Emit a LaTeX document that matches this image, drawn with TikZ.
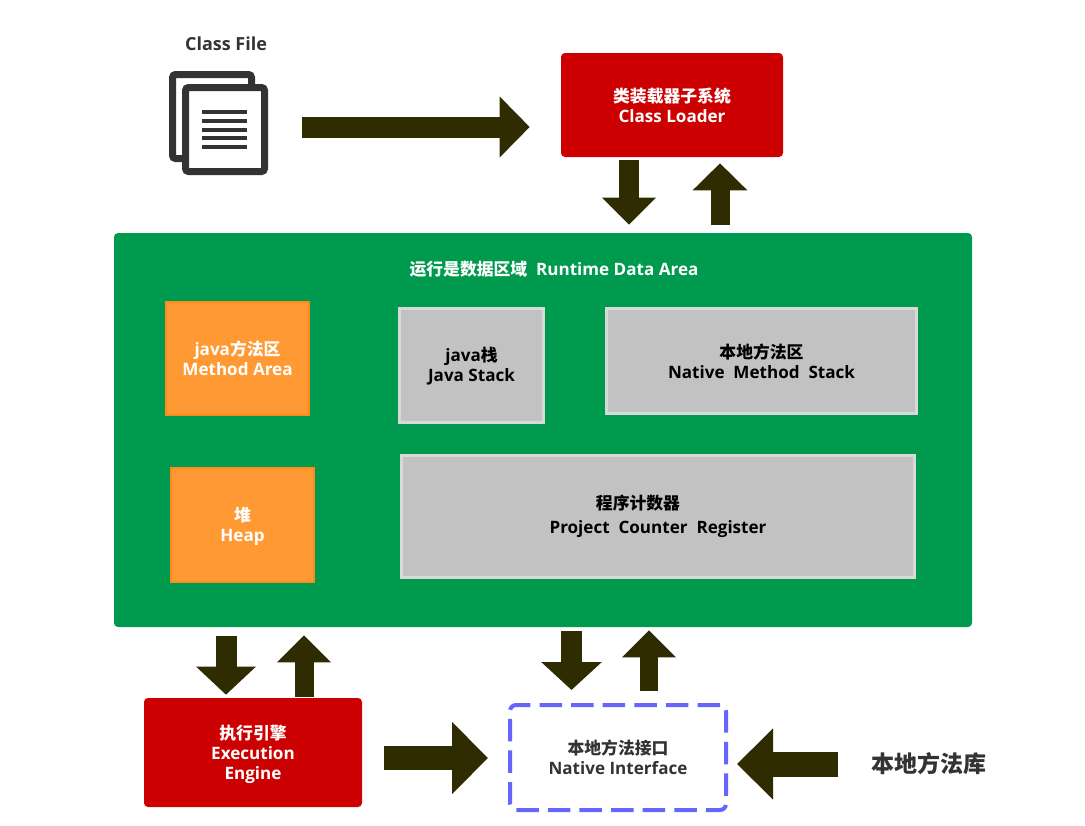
\documentclass[tikz,border=0pt]{standalone}
\usepackage{fontspec}
\setmainfont{Open Sans}
\newfontfamily\cjk[Scale=0.985]{Noto Sans CJK SC}
\usetikzlibrary{arrows.meta,positioning}
\def\pw{0.75pt}
\newcommand\pushrule[1]{\rule{0pt}{#1}}
\definecolor{arrowdark}{HTML}{302C02}
\definecolor{areagreen}{HTML}{009A4E}
\definecolor{loaderred}{HTML}{CC0000}
\definecolor{boxorange}{HTML}{FF9933}
\definecolor{edgeorange}{HTML}{FF8C1A}
\definecolor{boxgray}{HTML}{C2C2C2}
\definecolor{edgegray}{HTML}{D9D9D9}
\definecolor{dashblue}{HTML}{6666FF}
\definecolor{icondark}{HTML}{333333}
\tikzset{
	box/.style={rectangle, align=center, font=\bfseries\fontsize{12.8}{15}\selectfont, inner sep=0pt},
	redbox/.style={box, fill=loaderred, text=white, rounded corners=4*\pw},
	orangebox/.style={box, fill=boxorange, draw=edgeorange, line width=2*\pw, text=white},
	graybox/.style={box, fill=boxgray, draw=edgegray, line width=3*\pw, text=black},
	bigarrow/.style n args={3}{arrowdark, line width=#1*\pw, -{Triangle[length=#2*\pw, width=#3*\pw]}},
	filesheet/.style={rectangle, draw=icondark, fill=white, line width=7*\pw, rounded corners=3*\pw, inner sep=0pt, minimum width=79*\pw, minimum height=84*\pw}
}
\begin{document}
\begin{tikzpicture}[x=\pw, y=-\pw]
	\useasboundingbox (0, 0) rectangle (1085, 825);

	%%%%% class file %%%%%
	\node[font=\bfseries\fontsize{13.5}{15}\selectfont, text=icondark] (classlabel) at (226, 44) {Class File};
	\node[filesheet] (fileback) at (212, 116.5) {};
	\node[filesheet] (filefront) at (225, 129.5) {};
	\foreach \liney in {112, 121, 130, 138, 147}
		\draw[icondark, line width=4*\pw] (202, \liney) -- (247, \liney);

	%%%%% boxes %%%%%
	\node[redbox, minimum width=222*\pw, minimum height=104*\pw] (loader) at (672, 105) {{\cjk 类装载器子系统}\\Class Loader};
	\node[rectangle, fill=areagreen, rounded corners=4*\pw, minimum width=858*\pw, minimum height=394*\pw, inner sep=0pt] (area) at (543, 430) {};
	\node[box, text=white] (areatitle) at (554, 269) {{\cjk 运行是数据区域}~~Runtime Data Area};

	\node[orangebox, minimum width=143*\pw, minimum height=113*\pw] (method) at (237.5, 358.5) {java{\cjk 方法区}\\Method Area};
	\node[orangebox, minimum width=143*\pw, minimum height=114*\pw] (heap) at (242.5, 525) {\pushrule{13.5pt}{\cjk 堆}\\Heap};
	\node[graybox, minimum width=144*\pw, minimum height=114*\pw] (javastack) at (471.5, 365.5) {\pushrule{12pt}java{\cjk 栈}\\Java Stack};
	\node[graybox, minimum width=310*\pw, minimum height=105*\pw] (nativestack) at (761.5, 361) {{\cjk 本地方法区}\\Native~~Method~~Stack};
	\node[graybox, minimum width=513*\pw, minimum height=122*\pw] (register) at (658, 516) {{\cjk 程序计数器}\hspace*{30pt}\\[3pt]Project~~Counter~~Register};

	\node[redbox, minimum width=218*\pw, minimum height=109*\pw] (engine) at (253, 752.5) {\pushrule{14pt}{\cjk 执行引擎}\\Execution\\Engine};
	\node[box, draw=dashblue, line width=4*\pw, dash pattern=on 22.5*\pw off 9.1*\pw, rounded corners=6*\pw, text=icondark, minimum width=216*\pw, minimum height=105*\pw] (interface) at (618, 757.5) {{\cjk 本地方法接口}\\Native Interface};
	\node[font=\bfseries\fontsize{17.5}{20}\selectfont\cjk, text=icondark, inner sep=0pt] (library) at (929, 764) {本地方法库};

	%%%%% arrows %%%%%
	\coordinate (filearrow) at ([yshift=2.5*\pw]filefront.east);
	\coordinate (loaderdown) at ([xshift=-43*\pw]loader.south);
	\coordinate (loaderup) at ([xshift=48*\pw]loader.south);
	\coordinate (enginedown) at ([xshift=-27*\pw]engine.north);
	\coordinate (engineup) at ([xshift=51*\pw]engine.north);
	\coordinate (nativedown) at ([xshift=-46.5*\pw]interface.north);
	\coordinate (nativeup) at ([xshift=31*\pw]interface.north);
	\coordinate (enginearrow) at ([yshift=-5.5*\pw]engine.east);

	\draw[bigarrow={21}{30}{59}, shorten <=34*\pw, shorten >=31*\pw] (filearrow) -- (filearrow -| loader.west);
	\draw[bigarrow={20}{27}{52}, shorten <=3*\pw, shorten >=8*\pw] (loaderdown) -- (loaderdown |- area.north);
	\draw[bigarrow={19}{27}{53}, shorten <=8*\pw, shorten >=6*\pw] (loaderup |- area.north) -- (loaderup);
	\draw[bigarrow={21}{28}{58}, shorten <=9*\pw, shorten >=3*\pw] (enginedown |- area.south) -- (enginedown);
	\draw[bigarrow={19}{27}{52}, shorten <=1*\pw, shorten >=8*\pw] (engineup) -- (engineup |- area.south);
	\draw[bigarrow={21}{28}{59}, shorten <=4*\pw, shorten >=13*\pw] (nativedown |- area.south) -- (nativedown);
	\draw[bigarrow={18}{27}{52}, shorten <=12*\pw, shorten >=3*\pw] (nativeup) -- (nativeup |- area.south);
	\draw[bigarrow={24}{36}{70}, shorten <=22*\pw, shorten >=20*\pw] (enginearrow) -- (enginearrow -| interface.west);
	\draw[bigarrow={25}{36}{69}, shorten <=33*\pw, shorten >=9*\pw] (library.west) -- (library.west -| interface.east);
\end{tikzpicture}
\end{document}
